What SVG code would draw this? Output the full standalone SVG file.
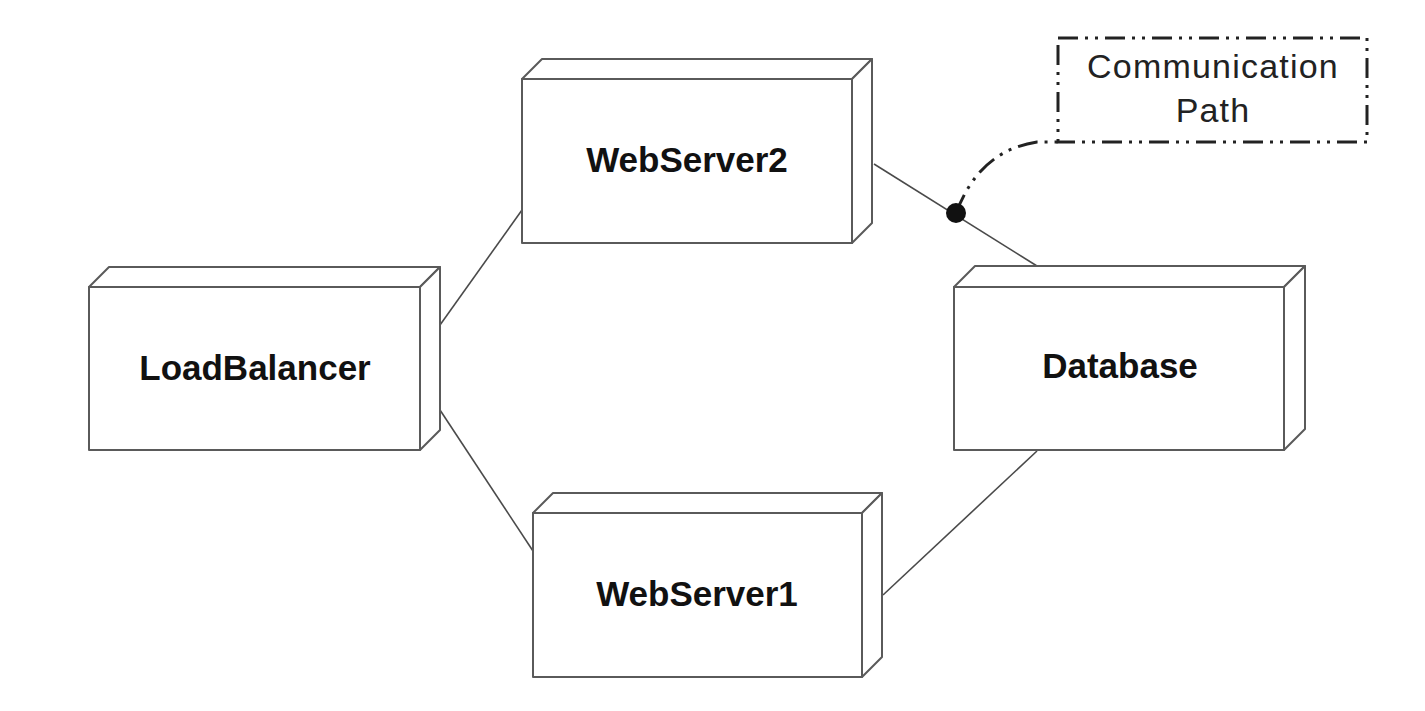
<svg xmlns="http://www.w3.org/2000/svg" width="1425" height="711" viewBox="0 0 1425 711">
<style>
.face{fill:#fff;stroke:#5a5a5a;stroke-width:2;stroke-linejoin:round}
.lbl{font-family:"Liberation Sans",Arial,sans-serif;font-weight:bold;font-size:35px;fill:#111;text-anchor:middle}
.note{font-family:"Liberation Sans",Arial,sans-serif;font-size:34px;letter-spacing:1.2px;fill:#222;text-anchor:middle}
.conn{fill:none;stroke:#4a4a4a;stroke-width:1.6}
.dash{fill:none;stroke:#222;stroke-width:3;stroke-dasharray:20 7 3 7 3 7}
</style>
<rect width="1425" height="711" fill="#fff"/>
<g id="connectors">
<line class="conn" x1="440" y1="325" x2="522" y2="210"/>
<line class="conn" x1="440" y1="410" x2="533" y2="551"/>
<line class="conn" x1="874" y1="164" x2="1037" y2="266"/>
<line class="conn" x1="883" y1="595" x2="1037" y2="451"/>
</g>
<g id="LoadBalancer">
<path class="face" d="M89,287 L109,267 L440,267 L420,287 Z"/>
<path class="face" d="M420,287 L440,267 L440,430 L420,450 Z"/>
<rect class="face" x="89" y="287" width="331" height="163"/>
<text class="lbl" x="255" y="380">LoadBalancer</text>
</g>
<g id="WebServer2">
<path class="face" d="M522,79 L542,59 L872,59 L852,79 Z"/>
<path class="face" d="M852,79 L872,59 L872,223 L852,243 Z"/>
<rect class="face" x="522" y="79" width="330" height="164"/>
<text class="lbl" x="687" y="172">WebServer2</text>
</g>
<g id="WebServer1">
<path class="face" d="M533,513 L553,493 L882,493 L862,513 Z"/>
<path class="face" d="M862,513 L882,493 L882,657 L862,677 Z"/>
<rect class="face" x="533" y="513" width="329" height="164"/>
<text class="lbl" x="697" y="606">WebServer1</text>
</g>
<g id="Database">
<path class="face" d="M954,287 L975,266 L1305,266 L1284,287 Z"/>
<path class="face" d="M1284,287 L1305,266 L1305,429 L1284,450 Z"/>
<rect class="face" x="954" y="287" width="330" height="163"/>
<text class="lbl" x="1120" y="378">Database</text>
</g>
<g id="note">
<rect class="dash" x="1058" y="38" width="309" height="104" fill="#fff"/>
<text class="note" x="1213" y="78">Communication</text>
<text class="note" x="1213" y="122">Path</text>
</g>
<g id="note-link">
<path class="dash" d="M956,213 C966,188 985,150 1037,142 L1058,142"/>
<circle cx="956" cy="213" r="10" fill="#111"/>
</g>
</svg>
